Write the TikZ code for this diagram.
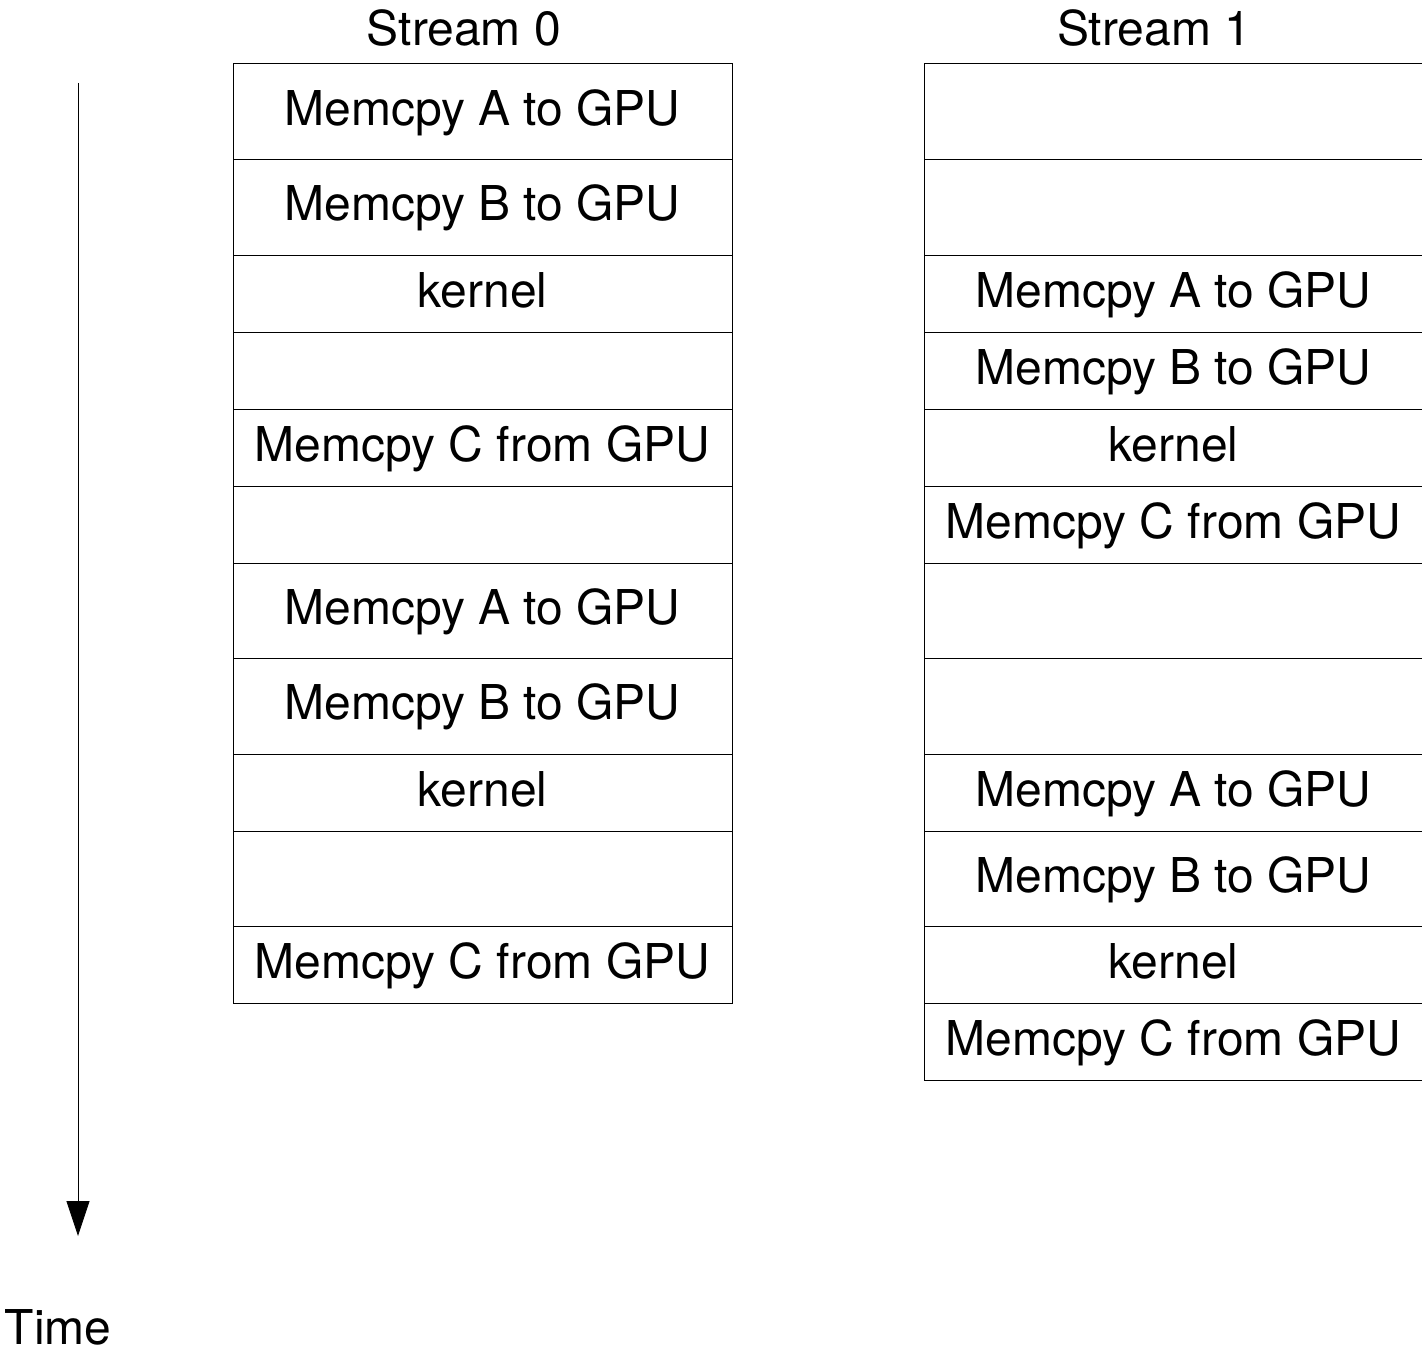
\documentclass[tikz,border=0pt]{standalone}
\usepackage{fontspec}
\setmainfont{TeX Gyre Heros}
\usetikzlibrary{positioning,arrows.meta}

\begin{document}
\begin{tikzpicture}[x=1pt,y=-1pt,
  cell/.style={draw,line width=1pt,minimum width=499pt,inner sep=0pt,outer sep=0pt,
    text height=36pt,text depth=9pt,font=\fontsize{48}{56}\selectfont},
  tall/.style={cell,minimum height=95.5pt},
  short/.style={cell,minimum height=77pt},
  heading/.style={inner sep=0pt,font=\fontsize{48}{56}\selectfont}]
\useasboundingbox (0,0) rectangle (1422,1354);

% Stream 0
\node[heading] (h0) at (464,28) {Stream 0};
\node[tall,anchor=north] (s0r1) at (482.5,64) {Memcpy A to GPU};
\node[tall,below=0pt of s0r1] (s0r2) {Memcpy B to GPU};
\node[short,below=0pt of s0r2] (s0r3) {kernel};
\node[short,below=0pt of s0r3] (s0r4) {};
\node[short,below=0pt of s0r4] (s0r5) {Memcpy C from GPU};
\node[short,below=0pt of s0r5] (s0r6) {};
\node[tall,below=0pt of s0r6] (s0r7) {Memcpy A to GPU};
\node[tall,below=0pt of s0r7] (s0r8) {Memcpy B to GPU};
\node[short,below=0pt of s0r8] (s0r9) {kernel};
\node[tall,below=0pt of s0r9] (s0r10) {};
\node[short,below=0pt of s0r10] (s0r11) {Memcpy C from GPU};

% Stream 1
\node[heading] (h1) at (1154,28) {Stream 1};
\node[tall,anchor=north] (s1r1) at (1173.5,64) {};
\node[tall,below=0pt of s1r1] (s1r2) {};
\node[short,below=0pt of s1r2] (s1r3) {Memcpy A to GPU};
\node[short,below=0pt of s1r3] (s1r4) {Memcpy B to GPU};
\node[short,below=0pt of s1r4] (s1r5) {kernel};
\node[short,below=0pt of s1r5] (s1r6) {Memcpy C from GPU};
\node[tall,below=0pt of s1r6] (s1r7) {};
\node[tall,below=0pt of s1r7] (s1r8) {};
\node[short,below=0pt of s1r8] (s1r9) {Memcpy A to GPU};
\node[tall,below=0pt of s1r9] (s1r10) {Memcpy B to GPU};
\node[short,below=0pt of s1r10] (s1r11) {kernel};
\node[short,below=0pt of s1r11] (s1r12) {Memcpy C from GPU};

% Time axis
\coordinate (tstart) at (78,83);
\coordinate (tend) at (78,1236);
\draw[-{Triangle[width=23pt,length=35pt]},line width=0.8pt] (tstart) -- (tend);
\node[heading] (time) at (58,1327) {Time};

\end{tikzpicture}
\end{document}
